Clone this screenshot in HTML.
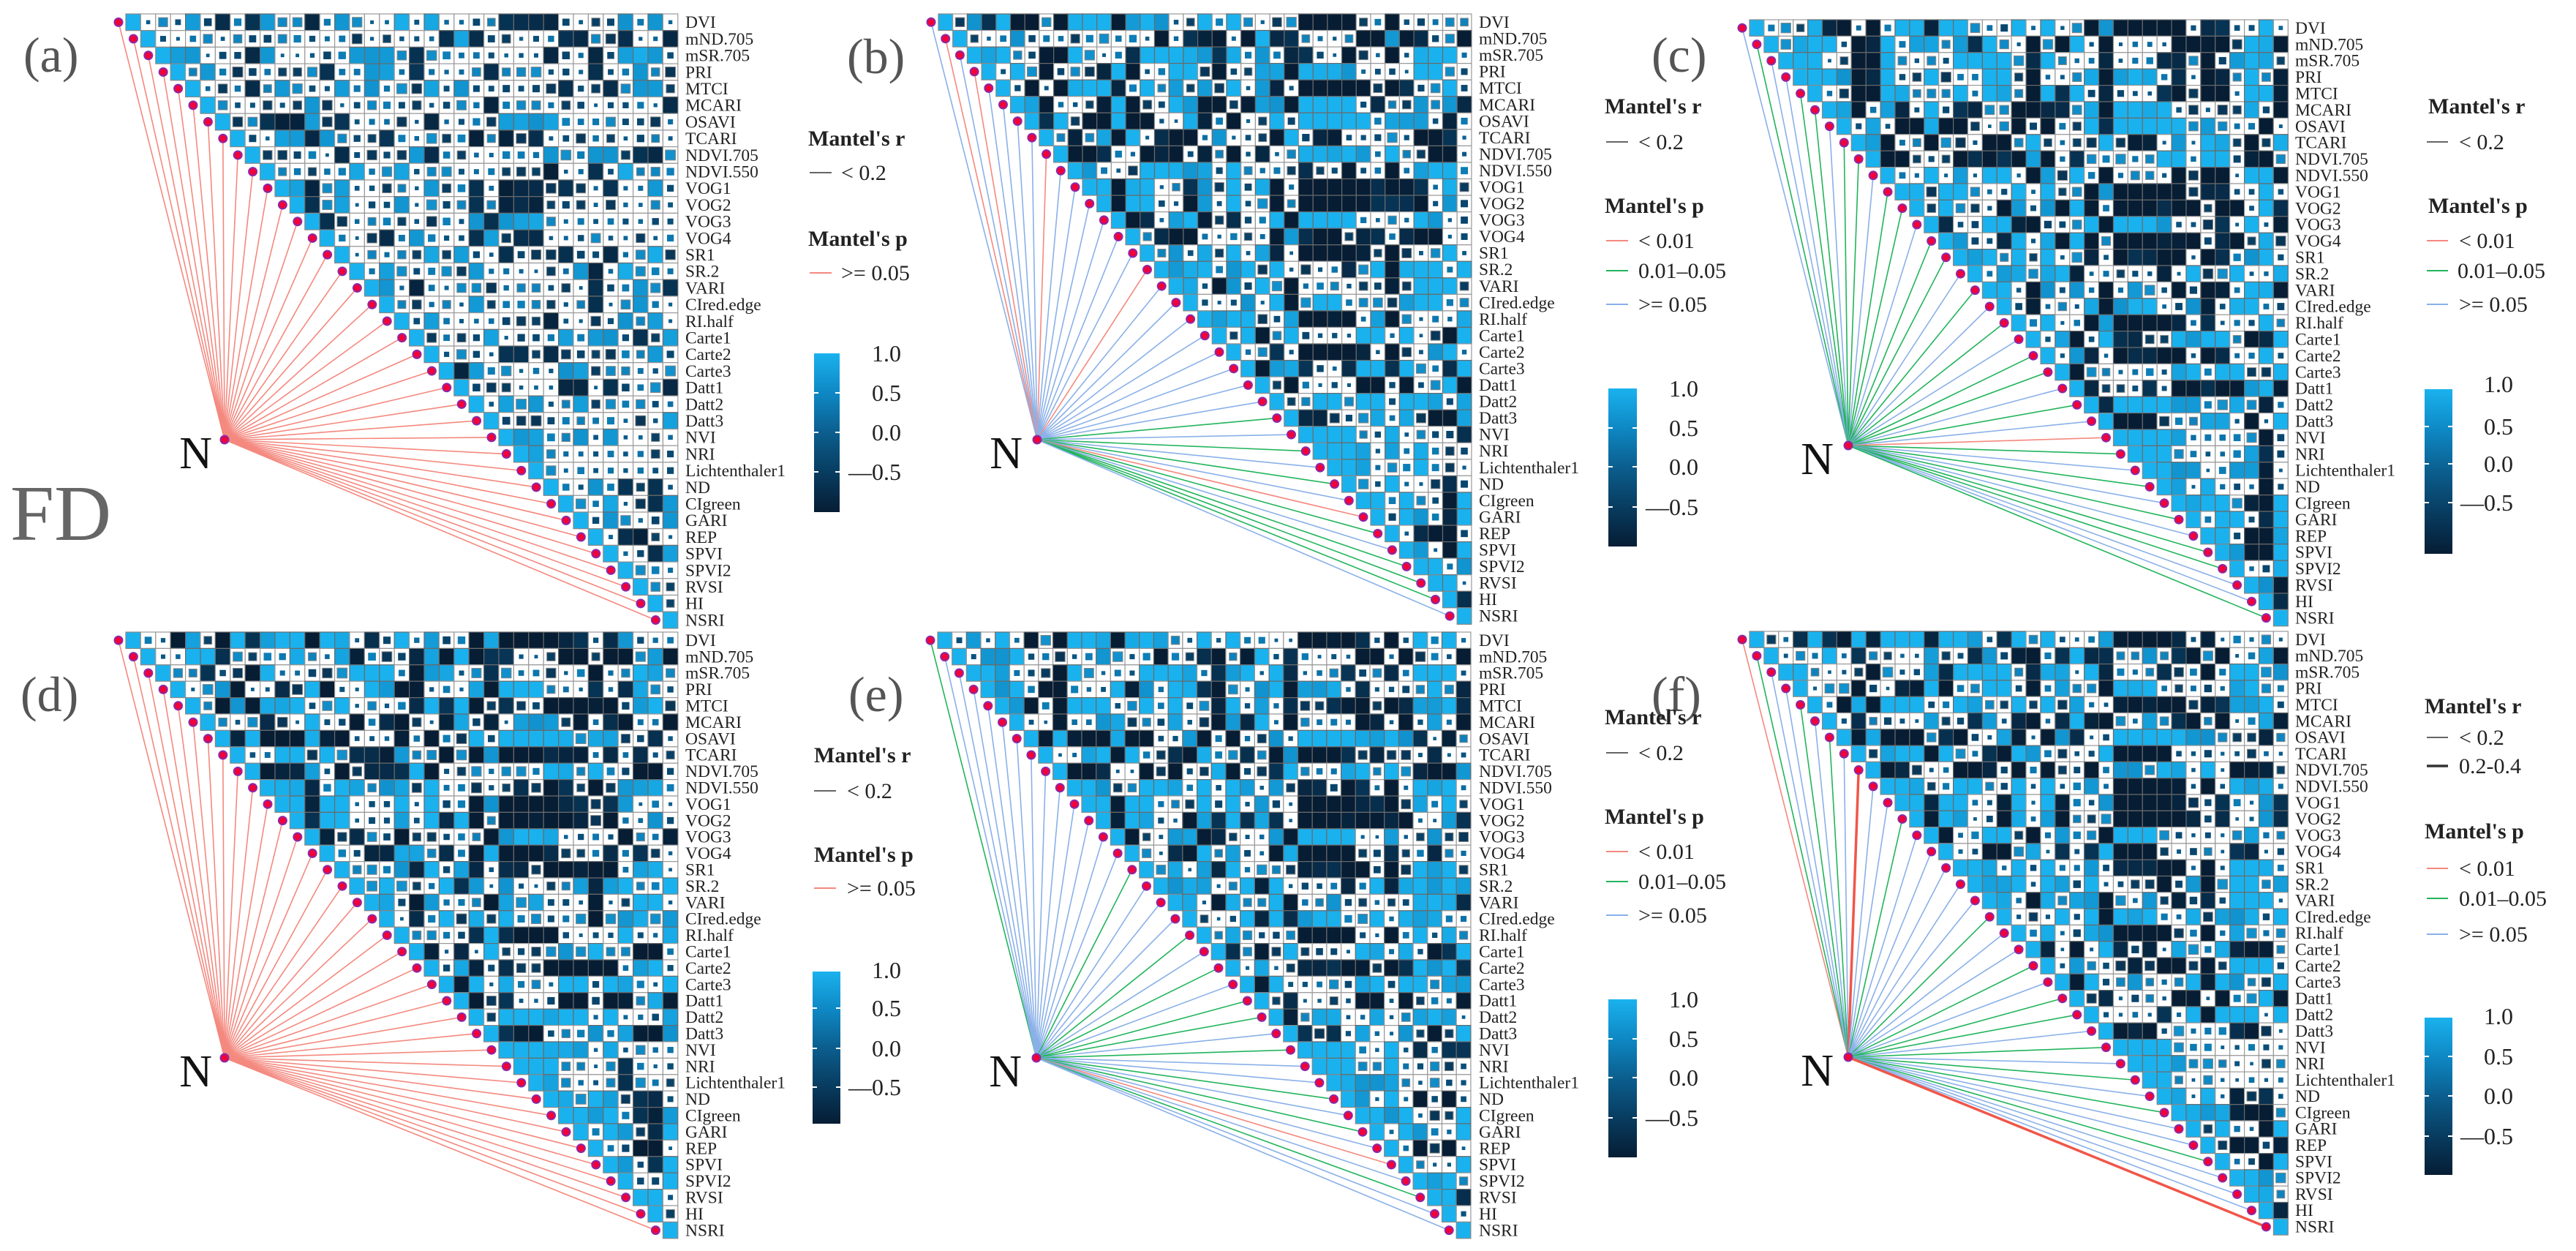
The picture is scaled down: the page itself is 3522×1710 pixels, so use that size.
<!DOCTYPE html>
<html><head><meta charset="utf-8">
<style>
html,body{margin:0;padding:0;background:#fff;}
svg{display:block;}
text{font-family:"Liberation Serif","Times New Roman",serif;}
.lb{font-size:23.5px;fill:#222;}
.pl{font-size:68px;fill:#555;}
.nn{font-size:62px;fill:#111;}
.lt{font-size:30px;font-weight:bold;fill:#222;}
.le{font-size:30px;fill:#222;}
.tk{font-size:32px;fill:#222;text-anchor:end;}
</style></head>
<body>
<svg id="s" xmlns="http://www.w3.org/2000/svg" xmlns:xlink="http://www.w3.org/1999/xlink" width="3522" height="1710" viewBox="0 0 3522 1710" font-family="Liberation Serif, serif">
<defs>
<linearGradient id="cb" x1="0" y1="0" x2="0" y2="1">
<stop offset="0" stop-color="#1ab2ee"/><stop offset="0.25" stop-color="#0e88c4"/><stop offset="0.5" stop-color="#0b5e8e"/><stop offset="0.75" stop-color="#083c60"/><stop offset="1" stop-color="#061d34"/>
</linearGradient>
<g id="labels" font-family="Liberation Serif, serif" font-size="23.5" fill="#222">
<text class="lb" x="0" y="19">DVI</text>
<text class="lb" x="0" y="41.5">mND.705</text>
<text class="lb" x="0" y="64">mSR.705</text>
<text class="lb" x="0" y="86.5">PRI</text>
<text class="lb" x="0" y="109">MTCI</text>
<text class="lb" x="0" y="131.5">MCARI</text>
<text class="lb" x="0" y="154">OSAVI</text>
<text class="lb" x="0" y="176.5">TCARI</text>
<text class="lb" x="0" y="199">NDVI.705</text>
<text class="lb" x="0" y="221.5">NDVI.550</text>
<text class="lb" x="0" y="244">VOG1</text>
<text class="lb" x="0" y="266.5">VOG2</text>
<text class="lb" x="0" y="289">VOG3</text>
<text class="lb" x="0" y="311.5">VOG4</text>
<text class="lb" x="0" y="334">SR1</text>
<text class="lb" x="0" y="356.5">SR.2</text>
<text class="lb" x="0" y="379">VARI</text>
<text class="lb" x="0" y="401.5">CIred.edge</text>
<text class="lb" x="0" y="424">RI.half</text>
<text class="lb" x="0" y="446.5">Carte1</text>
<text class="lb" x="0" y="469">Carte2</text>
<text class="lb" x="0" y="491.5">Carte3</text>
<text class="lb" x="0" y="514">Datt1</text>
<text class="lb" x="0" y="536.5">Datt2</text>
<text class="lb" x="0" y="559">Datt3</text>
<text class="lb" x="0" y="581.5">NVI</text>
<text class="lb" x="0" y="604">NRI</text>
<text class="lb" x="0" y="626.5">Lichtenthaler1</text>
<text class="lb" x="0" y="649">ND</text>
<text class="lb" x="0" y="671.5">CIgreen</text>
<text class="lb" x="0" y="694">GARI</text>
<text class="lb" x="0" y="716.5">REP</text>
<text class="lb" x="0" y="739">SPVI</text>
<text class="lb" x="0" y="761.5">SPVI2</text>
<text class="lb" x="0" y="784">RVSI</text>
<text class="lb" x="0" y="806.5">HI</text>
<text class="lb" x="0" y="829">NSRI</text>
</g>
</defs>
<rect width="3522" height="1710" fill="#fff"/>
<g id="dyn"></g>

<use xlink:href="#labels" href="#labels" transform="translate(937,19) scale(1,1.009)"/>
<use xlink:href="#labels" href="#labels" transform="translate(2022,19) scale(1,1.002)"/>
<use xlink:href="#labels" href="#labels" transform="translate(3138,27) scale(1,0.9956)"/>
<use xlink:href="#labels" href="#labels" transform="translate(937,864) scale(1,0.9956)"/>
<use xlink:href="#labels" href="#labels" transform="translate(2022,864) scale(1,0.9956)"/>
<use xlink:href="#labels" href="#labels" transform="translate(3138,863) scale(1,0.991)"/>

<text class="pl" x="32" y="98">(a)</text>
<text class="pl" x="1158" y="100">(b)</text>
<text class="pl" x="2258" y="98">(c)</text>
<text class="pl" x="28" y="972">(d)</text>
<text class="pl" x="1160" y="972">(e)</text>
<text class="pl" x="2258" y="972">(f)</text>
<text x="14" y="738" style="font-family:'Liberation Serif',serif;font-size:108px;fill:#666;">FD</text>

<text class="nn" x="290" y="640" text-anchor="end">N</text>
<text class="nn" x="1398" y="640" text-anchor="end">N</text>
<text class="nn" x="2507" y="648" text-anchor="end">N</text>
<text class="nn" x="290" y="1485" text-anchor="end">N</text>
<text class="nn" x="1397" y="1485" text-anchor="end">N</text>
<text class="nn" x="2507" y="1484" text-anchor="end">N</text>

<!-- Legend (a) -->
<text class="lt" x="1105" y="199">Mantel's r</text>
<line x1="1107" y1="236" x2="1137" y2="236" stroke="#666" stroke-width="2"/>
<text class="le" x="1150" y="246">&lt;  0.2</text>
<text class="lt" x="1105" y="336">Mantel's p</text>
<line x1="1107" y1="373" x2="1137" y2="373" stroke="#f4897f" stroke-width="2"/>
<text class="le" x="1150" y="383">&gt;=  0.05</text>
<rect x="1113" y="483" width="35" height="217" fill="url(#cb)"/>
<g stroke="#fff" stroke-width="2"><line x1="1113" y1="537" x2="1119" y2="537"/><line x1="1142" y1="537" x2="1148" y2="537"/><line x1="1113" y1="591" x2="1119" y2="591"/><line x1="1142" y1="591" x2="1148" y2="591"/><line x1="1113" y1="645" x2="1119" y2="645"/><line x1="1142" y1="645" x2="1148" y2="645"/></g>
<text class="tk" x="1232" y="494">1.0</text><text class="tk" x="1232" y="548">0.5</text><text class="tk" x="1232" y="602">0.0</text><text class="tk" x="1232" y="656">—0.5</text>

<!-- Legend (b) -->
<text class="lt" x="2194" y="155">Mantel's r</text>
<line x1="2196" y1="194" x2="2226" y2="194" stroke="#666" stroke-width="2"/>
<text class="le" x="2240" y="204">&lt;  0.2</text>
<text class="lt" x="2194" y="291">Mantel's p</text>
<line x1="2196" y1="329" x2="2226" y2="329" stroke="#f4897f" stroke-width="2"/>
<text class="le" x="2240" y="339">&lt;  0.01</text>
<line x1="2196" y1="370" x2="2226" y2="370" stroke="#22b45c" stroke-width="2"/>
<text class="le" x="2240" y="380">0.01–0.05</text>
<line x1="2196" y1="416" x2="2226" y2="416" stroke="#8ab0e8" stroke-width="2"/>
<text class="le" x="2240" y="426">&gt;=  0.05</text>
<rect x="2199" y="531" width="39" height="216" fill="url(#cb)"/>
<g stroke="#fff" stroke-width="2"><line x1="2199" y1="585" x2="2205" y2="585"/><line x1="2232" y1="585" x2="2238" y2="585"/><line x1="2199" y1="638" x2="2205" y2="638"/><line x1="2232" y1="638" x2="2238" y2="638"/><line x1="2199" y1="693" x2="2205" y2="693"/><line x1="2232" y1="693" x2="2238" y2="693"/></g>
<text class="tk" x="2322" y="542">1.0</text><text class="tk" x="2322" y="596">0.5</text><text class="tk" x="2322" y="649">0.0</text><text class="tk" x="2322" y="704">—0.5</text>

<!-- Legend (c) -->
<text class="lt" x="3320" y="155">Mantel's r</text>
<line x1="3318" y1="194" x2="3347" y2="194" stroke="#666" stroke-width="2"/>
<text class="le" x="3362" y="204">&lt;  0.2</text>
<text class="lt" x="3320" y="291">Mantel's p</text>
<line x1="3318" y1="329" x2="3347" y2="329" stroke="#f4897f" stroke-width="2"/>
<text class="le" x="3362" y="339">&lt;  0.01</text>
<line x1="3318" y1="370" x2="3347" y2="370" stroke="#22b45c" stroke-width="2"/>
<text class="le" x="3360" y="380">0.01–0.05</text>
<line x1="3318" y1="416" x2="3347" y2="416" stroke="#8ab0e8" stroke-width="2"/>
<text class="le" x="3362" y="426">&gt;=  0.05</text>
<rect x="3315" y="532" width="38" height="225" fill="url(#cb)"/>
<g stroke="#fff" stroke-width="2"><line x1="3315" y1="583" x2="3321" y2="583"/><line x1="3347" y1="583" x2="3353" y2="583"/><line x1="3315" y1="634" x2="3321" y2="634"/><line x1="3347" y1="634" x2="3353" y2="634"/><line x1="3315" y1="687" x2="3321" y2="687"/><line x1="3347" y1="687" x2="3353" y2="687"/></g>
<text class="tk" x="3436" y="536">1.0</text><text class="tk" x="3436" y="594">0.5</text><text class="tk" x="3436" y="645">0.0</text><text class="tk" x="3436" y="698">—0.5</text>

<!-- Legend (d) -->
<text class="lt" x="1113" y="1042">Mantel's r</text>
<line x1="1113" y1="1081" x2="1143" y2="1081" stroke="#666" stroke-width="2"/>
<text class="le" x="1158" y="1091">&lt;  0.2</text>
<text class="lt" x="1113" y="1178">Mantel's p</text>
<line x1="1113" y1="1214" x2="1143" y2="1214" stroke="#f4897f" stroke-width="2"/>
<text class="le" x="1158" y="1224">&gt;=  0.05</text>
<rect x="1111" y="1328" width="38" height="208" fill="url(#cb)"/>
<g stroke="#fff" stroke-width="2"><line x1="1111" y1="1378" x2="1117" y2="1378"/><line x1="1143" y1="1378" x2="1149" y2="1378"/><line x1="1111" y1="1433" x2="1117" y2="1433"/><line x1="1143" y1="1433" x2="1149" y2="1433"/><line x1="1111" y1="1486" x2="1117" y2="1486"/><line x1="1143" y1="1486" x2="1149" y2="1486"/></g>
<text class="tk" x="1232" y="1337">1.0</text><text class="tk" x="1232" y="1389">0.5</text><text class="tk" x="1232" y="1444">0.0</text><text class="tk" x="1232" y="1497">—0.5</text>

<!-- Legend (e) -->
<text class="lt" x="2194" y="990">Mantel's r</text>
<line x1="2196" y1="1029" x2="2226" y2="1029" stroke="#666" stroke-width="2"/>
<text class="le" x="2240" y="1039">&lt;  0.2</text>
<text class="lt" x="2194" y="1126">Mantel's p</text>
<line x1="2196" y1="1164" x2="2226" y2="1164" stroke="#f4897f" stroke-width="2"/>
<text class="le" x="2240" y="1174">&lt;  0.01</text>
<line x1="2196" y1="1205" x2="2226" y2="1205" stroke="#22b45c" stroke-width="2"/>
<text class="le" x="2240" y="1215">0.01–0.05</text>
<line x1="2196" y1="1251" x2="2226" y2="1251" stroke="#8ab0e8" stroke-width="2"/>
<text class="le" x="2240" y="1261">&gt;=  0.05</text>
<rect x="2199" y="1366" width="39" height="216" fill="url(#cb)"/>
<g stroke="#fff" stroke-width="2"><line x1="2199" y1="1420" x2="2205" y2="1420"/><line x1="2232" y1="1420" x2="2238" y2="1420"/><line x1="2199" y1="1473" x2="2205" y2="1473"/><line x1="2232" y1="1473" x2="2238" y2="1473"/><line x1="2199" y1="1528" x2="2205" y2="1528"/><line x1="2232" y1="1528" x2="2238" y2="1528"/></g>
<text class="tk" x="2322" y="1377">1.0</text><text class="tk" x="2322" y="1431">0.5</text><text class="tk" x="2322" y="1484">0.0</text><text class="tk" x="2322" y="1539">—0.5</text>

<!-- Legend (f) -->
<text class="lt" x="3315" y="975">Mantel's r</text>
<line x1="3318" y1="1008" x2="3347" y2="1008" stroke="#666" stroke-width="2"/>
<text class="le" x="3362" y="1018">&lt;  0.2</text>
<line x1="3318" y1="1047" x2="3347" y2="1047" stroke="#333" stroke-width="3.5"/>
<text class="le" x="3362" y="1057">0.2-0.4</text>
<text class="lt" x="3315" y="1146">Mantel's p</text>
<line x1="3318" y1="1187" x2="3347" y2="1187" stroke="#f4897f" stroke-width="2"/>
<text class="le" x="3362" y="1197">&lt;  0.01</text>
<line x1="3318" y1="1228" x2="3347" y2="1228" stroke="#22b45c" stroke-width="2"/>
<text class="le" x="3362" y="1238">0.01–0.05</text>
<line x1="3318" y1="1277" x2="3347" y2="1277" stroke="#8ab0e8" stroke-width="2"/>
<text class="le" x="3362" y="1287">&gt;=  0.05</text>
<rect x="3315" y="1391" width="38" height="215" fill="url(#cb)"/>
<g stroke="#fff" stroke-width="2"><line x1="3315" y1="1444" x2="3321" y2="1444"/><line x1="3347" y1="1444" x2="3353" y2="1444"/><line x1="3315" y1="1498" x2="3321" y2="1498"/><line x1="3347" y1="1498" x2="3353" y2="1498"/><line x1="3315" y1="1553" x2="3321" y2="1553"/><line x1="3347" y1="1553" x2="3353" y2="1553"/></g>
<text class="tk" x="3436" y="1400">1.0</text><text class="tk" x="3436" y="1455">0.5</text><text class="tk" x="3436" y="1509">0.0</text><text class="tk" x="3436" y="1564">—0.5</text>
</svg>

<script>
(function(){
var NS="http://www.w3.org/2000/svg";
var dyn=document.getElementById("dyn");
function el(t,a){var e=document.createElementNS(NS,t);for(var k in a)e.setAttribute(k,a[k]);dyn.appendChild(e);return e;}
function rng(s){return function(){s=(Math.imul(s,1664525)+1013904223)>>>0;return s/4294967296;};}
var n=37;
var stops=[[-1,[6,29,52]],[-0.5,[8,60,96]],[0,[11,94,142]],[0.5,[14,136,196]],[1,[26,178,238]]];
function col(r){r=Math.max(-1,Math.min(1,r));for(var i=0;i<4;i++){var a=stops[i],b=stops[i+1];if(r<=b[0]){var t=(r-a[0])/(b[0]-a[0]);var c=[0,1,2].map(function(k){return Math.round(a[1][k]+(b[1][k]-a[1][k])*t);});return "rgb("+c.join(",")+")";}}return "rgb(26,178,238)";}
var C={r:"#f4897f",g:"#22b45c",b:"#8ab0e8",R:"#f0564a"};
function pad(s,ch){while(s.length<n)s+=ch;return s.slice(0,n);}
var P=[
 {gx:172,gy:19,cw:20.4,rh:22.7,k:0.85,seed:11,lines:pad("","r")},
 {gx:1283,gy:19,cw:19.7,rh:22.55,k:1.5,seed:23,lines:"brbrbbbbrbbbbbbrbbbbbbbbgbgbgbrgbgggb"},
 {gx:2392,gy:27,cw:19.9,rh:22.4,k:1.5,seed:37,lines:"bgbbggbggbggbggbgbgbggbgbrgbgbgbggbbg"},
 {gx:172,gy:864,cw:20.4,rh:22.4,k:1.35,seed:41,lines:pad("","r")},
 {gx:1282,gy:864,cw:19.7,rh:22.4,k:1.4,seed:53,lines:"gbbbbbbbbbbbbbgbbbgbgbggbgbbgbgbrbgbb"},
 {gx:2392,gy:863,cw:19.9,rh:22.3,k:1.4,seed:67,lines:"rgbbgbgbRbbgbbbbbgbbgbggbgbgbgbbgbbbR"}
];
var R0=rng(5);var L=[];
for(var i=0;i<n;i++){L.push([R0()*2-1,R0()*2-1,R0()*2-1]);}
P.forEach(function(p,pi){
 var R=rng(p.seed);
 var Lp=L.map(function(v){return [v[0]+(R()-0.5)*0.6,v[1]+(R()-0.5)*0.6,v[2]+(R()-0.5)*0.6];});
 var nx=p.gx+135, ny=p.gy+582;
 for(var i=0;i<n;i++){
  var dx=p.gx+i*p.cw-10, dy=p.gy+i*p.rh+p.rh/2;
  var c=p.lines[i]||"b";
  el("line",{x1:nx,y1:ny,x2:dx,y2:dy,stroke:C[c],"stroke-width":(c==="R"?3.5:1.6)});
 }
 for(var i=0;i<n;i++){
  for(var j=i;j<n;j++){
   var x=p.gx+j*p.cw,y=p.gy+i*p.rh;
   if(i===j){el("rect",{x:x,y:y,width:p.cw,height:p.rh,fill:"#1ab2ee",stroke:"#888","stroke-width":1.2});continue;}
   var a=Lp[i],b=Lp[j];
   var d=(a[0]*b[0]+a[1]*b[1]+a[2]*b[2])/(Math.sqrt(a[0]*a[0]+a[1]*a[1]+a[2]*a[2])*Math.sqrt(b[0]*b[0]+b[1]*b[1]+b[2]*b[2])+1e-6);
   var r=d*p.k+(R()-0.5)*0.3;
   r=Math.max(-1,Math.min(1,r));
   var ar=Math.abs(r);
   if(ar>0.62){
    el("rect",{x:x,y:y,width:p.cw,height:p.rh,fill:col(r),stroke:"#6a6a6a","stroke-width":1.2});
   }else{
    el("rect",{x:x,y:y,width:p.cw,height:p.rh,fill:"#fff",stroke:"#999","stroke-width":1.2});
    var s=(0.25+0.8*ar)*Math.min(p.cw,p.rh)*0.92;
    el("rect",{x:x+(p.cw-s)/2,y:y+(p.rh-s)/2,width:s,height:s,fill:col(r),stroke:"#888","stroke-width":ar>0.4?1:0});
   }
  }
 }
 for(var i=0;i<n;i++){
  var dx=p.gx+i*p.cw-10, dy=p.gy+i*p.rh+p.rh/2;
  el("circle",{cx:dx,cy:dy,r:5.5,fill:"#f2003a",stroke:"#8a2aa8","stroke-width":2});
 }
 el("circle",{cx:nx,cy:ny,r:5.5,fill:"#f2003a",stroke:"#8a2aa8","stroke-width":2});
});
})();
</script>
</body></html>
